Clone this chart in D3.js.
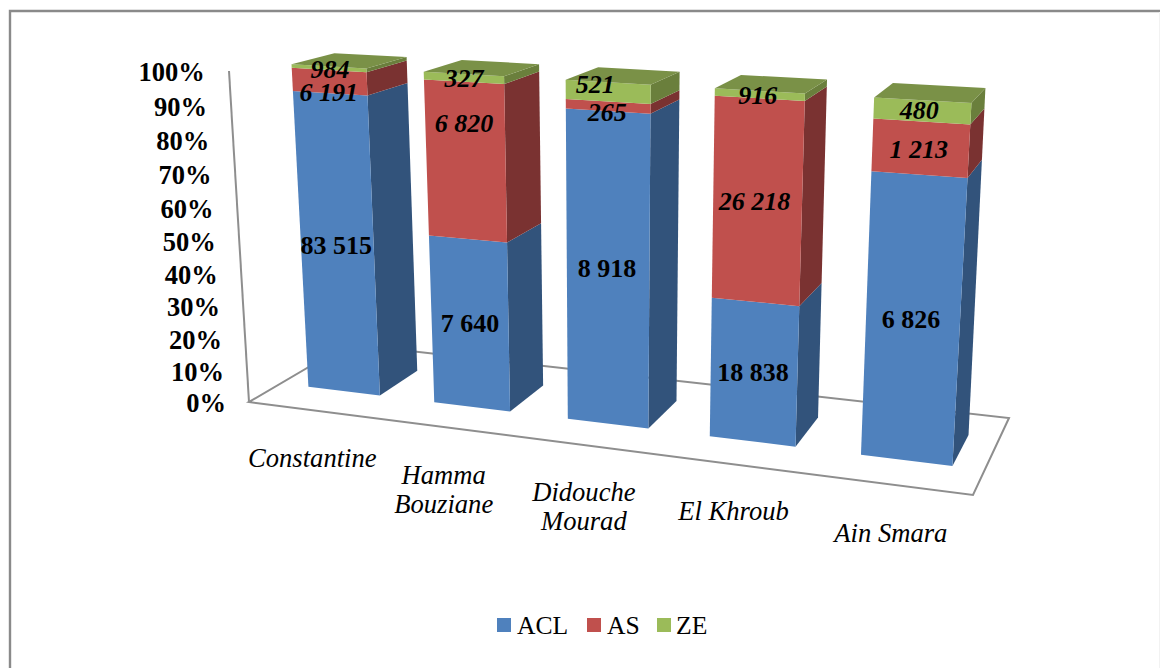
<!DOCTYPE html>
<html><head><meta charset="utf-8">
<script src="https://cdn.jsdelivr.net/npm/d3@7/dist/d3.min.js"></script>
<style>html,body{margin:0;background:#fff}svg{display:block}text{font-family:"Liberation Serif",serif;fill:#000}</style>
</head><body><svg id="c" width="1160" height="668"></svg>
<script>
const categories = ["Constantine", "Hamma Bouziane", "Didouche Mourad", "El Khroub", "Ain Smara"];
const seriesNames = ["ACL", "AS", "ZE"];
const ACL = [83515, 7640, 8918, 18838, 6826];
const AS = [6191, 6820, 265, 26218, 1213];
const ZE = [984, 327, 521, 916, 480];
const tickValues = [0, .1, .2, .3, .4, .5, .6, .7, .8, .9, 1];

const seriesValues = [ACL, AS, ZE];
const frontColor = ["#4F81BD", "#C0504D", "#9BBB59"];
const sideColor = ["#32537B", "#7A3231", "#6A7F3C"];
const topColor = "#7A9147";

// Projection of the plot box: floor and top plane quads, as unit-square homographies
function homography(q) {
  const [[x0,y0],[x1,y1],[x2,y2],[x3,y3]] = q;
  const sx=x0-x1+x2-x3, sy=y0-y1+y2-y3, dx1=x1-x2, dx2=x3-x2, dy1=y1-y2, dy2=y3-y2;
  const det=dx1*dy2-dx2*dy1, g=(sx*dy2-dx2*sy)/det, h=(dx1*sy-sx*dy1)/det;
  const a=x1-x0+g*x1, b=x3-x0+h*x3, d=y1-y0+g*y1, e=y3-y0+h*y3;
  return (u,w)=>{const W=g*u+h*w+1; return [(a*u+b*w+x0)/W,(d*u+e*w+y0)/W];};
}
const floorH = homography([[249,402],[973,495],[1009,418],[348,344]]);
const depthFront = .3, depthBack = .71;
const topRef = d3.scaleLinear().domain([.04,.5,.96]).range([0,.508,1]);
const topRefW = d3.scaleLinear().domain([depthFront,depthBack]).range([0,1]);
const topQ = homography([[288,64],[971,103],[985,88],[331,53]]);
const topH = (u,w)=>topQ(topRef(u),topRefW(w));
const k = 1.05;
const heightT = h => h/(h+k*(1-h));
function P(u,w,h){
  const a=floorH(u,w), b=topH(u,w), t=heightT(h);
  return [a[0]+(b[0]-a[0])*t, a[1]+(b[1]-a[1])*t];
}
const xBand = d3.scaleBand().domain(categories).range([.003,1.003]).paddingInner(.425).paddingOuter(.2125);
const svg = d3.select("#c");
const poly = pts => "M"+pts.map(p=>p.join(",")).join("L")+"Z";

// chart frame
svg.append("path").attr("d","M10,668V11H1160").attr("fill","none").attr("stroke","#8A8A8A").attr("stroke-width",2.4);
svg.append("path").attr("d","M1159.5,12V668").attr("fill","none").attr("stroke","#F2F2F2").attr("stroke-width",1);

// floor and wall axis
const axisCorners = [[0,0],[1,0],[1,1],[0,1]];
const axisG = svg.append("g").attr("fill","none").attr("stroke","#8E8E8E").attr("stroke-width",2);
axisG.append("path").attr("d",poly(axisCorners.map(c=>floorH(c[0],c[1]))));
axisG.append("path").attr("d","M229,71L"+P(0,0,0).join(","));

// tick labels
svg.append("g").selectAll("text").data(tickValues).join("text")
  .attr("x",d=>P(0,0,d)[0]-23).attr("y",d=>P(0,0,d)[1]+1).attr("dy",".35em")
  .attr("text-anchor","end").attr("font-weight","bold").attr("font-size",26.5)
  .text(d3.format(".0%"));

// bars
const stack = d3.stack().keys(d3.range(3)).value((i,s)=>seriesValues[s][i]).offset(d3.stackOffsetExpand)(d3.range(5));
const labels = [];
const labelNudge = [
 [[-1,-1],[-1,10],[1,1]],
 [[0,-1],[-2,-38],[0,0]],
 [[-1,-3],[-1,6],[-13,-8]],
 [[-1,0],[-3,-1],[-2,0]],
 [[-2,-1],[-2,1],[-3,-1]]
];
categories.forEach((cat,i)=>{
  const u0=xBand(cat), u1=u0+xBand.bandwidth();
  const g=svg.append("g");
  stack.forEach((ser,s)=>{
    const [h0,h1]=ser[i];
    g.append("path").attr("fill",sideColor[s])
      .attr("d",poly([P(u1,depthFront,h0),P(u1,depthBack,h0),P(u1,depthBack,h1),P(u1,depthFront,h1)]));
    g.append("path").attr("fill",frontColor[s])
      .attr("d",poly([P(u0,depthFront,h0),P(u1,depthFront,h0),P(u1,depthFront,h1),P(u0,depthFront,h1)]));
    const c=[P(u0,depthFront,(h0+h1)/2),P(u1,depthFront,(h0+h1)/2)];
    labels.push({x:(c[0][0]+c[1][0])/2+labelNudge[i][s][0],y:(c[0][1]+c[1][1])/2+labelNudge[i][s][1],v:seriesValues[s][i],s});
  });
  g.append("path").attr("fill",topColor)
    .attr("d",poly([P(u0,depthFront,1),P(u1,depthFront,1),P(u1,depthBack,1),P(u0,depthBack,1)]));
});
const fmt = v => d3.format(",")(v).replace(/,/g," ");
svg.append("g").selectAll("text").data(labels).join("text")
  .attr("x",d=>d.x).attr("y",d=>d.y).attr("dy",".35em").attr("text-anchor","middle")
  .attr("font-weight","bold").attr("font-style",d=>d.s===0?"normal":"italic").attr("font-size",26)
  .text(d=>fmt(d.v));

// category labels
const catNudge = [[20,0],[18,0],[16,0],[14,0],[9,0]];
const catLines = [["Constantine"],["Hamma","Bouziane"],["Didouche","Mourad"],["El Khroub"],["Ain Smara"]];
const catY = [458,475,492,511,533];
categories.forEach((cat,i)=>{
  const p=floorH(xBand(cat)+xBand.bandwidth()/2,-.2);
  const t=svg.append("text").attr("text-anchor","middle").attr("font-style","italic").attr("font-size",26.6)
    .attr("transform",`translate(${p[0]+catNudge[i][0]},${catY[i]})`);
  catLines[i].forEach((l,j)=>t.append("tspan").attr("x",0).attr("y",j*29).attr("dy",".35em").text(l));
});

// legend
const legendX = [497,587,657];
const lg = svg.append("g").selectAll("g").data(seriesNames).join("g").attr("transform",(d,i)=>`translate(${legendX[i]},618)`);
lg.append("rect").attr("width",14).attr("height",14).attr("fill",(d,i)=>frontColor[i]);
lg.append("text").attr("x",(d,i)=>i===2?19:20).attr("y",15.5).attr("font-size",25.6).text(d=>d);
</script></body></html>
